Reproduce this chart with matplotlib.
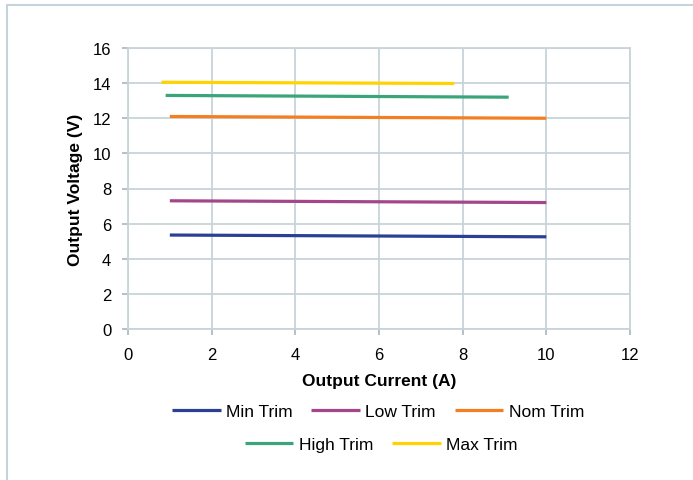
import matplotlib.pyplot as plt
from matplotlib.patches import Rectangle

# datos
min_x = [1, 10]
min_y = [5.35, 5.25]
low_x = [1, 10]
low_y = [7.3, 7.2]
nom_x = [1, 10]
nom_y = [12.1, 12.0]
high_x = [0.9, 9.1]
high_y = [13.3, 13.2]
max_x = [0.8, 7.8]
max_y = [14.05, 13.98]

series = [
    ("Min Trim", min_x, min_y, "#2b3f94"),
    ("Low Trim", low_x, low_y, "#a3468a"),
    ("Nom Trim", nom_x, nom_y, "#f47e22"),
    ("High Trim", high_x, high_y, "#3aa57a"),
    ("Max Trim", max_x, max_y, "#ffd200"),
]

plt.rcParams['font.family'] = ['Liberation Sans', 'DejaVu Sans']

fig = plt.figure(figsize=(6.93, 4.81), dpi=100)
ax = fig.add_axes([128 / 693, 1 - 330 / 481, 502 / 693, 281 / 481])

# borde del área del gráfico
fig.patches.append(Rectangle((7 / 693, -0.1), 1.1, 1 - 6 / 481 + 0.1,
                             transform=fig.transFigure, fill=False,
                             edgecolor="#c5d4db", linewidth=1.5))

lines = {}
for name, xs, ys, color in series:
    lines[name], = ax.plot(xs, ys, color=color, linewidth=2.3, label=name, solid_capstyle='butt')

ax.set_xlim(0, 12)
ax.set_ylim(0, 16)
ax.set_xticks(range(0, 13, 2))
ax.set_yticks(range(0, 17, 2))
ax.grid(True, color="#c8d4da", linewidth=1.3)
ax.set_axisbelow(True)
for s in ax.spines.values():
    s.set_color("#c8d4da")
    s.set_linewidth(1.3)
ax.tick_params(colors="#b0bcc2", labelcolor="black", labelsize=12, length=4, width=1.3)
ax.tick_params(axis="y", pad=8)
ax.tick_params(axis="x", pad=9)

ax.set_xlabel("Output Current (A)", fontsize=12.5, fontweight="bold", labelpad=8)
ax.set_ylabel("Output Voltage (V)", fontsize=12.5, fontweight="bold", labelpad=7)

h1 = [lines[n] for n in ["Min Trim", "Low Trim", "Nom Trim"]]
h2 = [lines[n] for n in ["High Trim", "Max Trim"]]
leg_kw = dict(loc="center", frameon=False, fontsize=12.5, handlelength=2.8,
              handletextpad=0.3, columnspacing=1.1)
fig.legend(h1, [h.get_label() for h in h1], bbox_to_anchor=(378 / 693, 1 - 412 / 481), ncol=3, **leg_kw)
fig.legend(h2, [h.get_label() for h in h2], bbox_to_anchor=(381 / 693, 1 - 445 / 481), ncol=2, **leg_kw)

fig.savefig("out.png", dpi=100)
